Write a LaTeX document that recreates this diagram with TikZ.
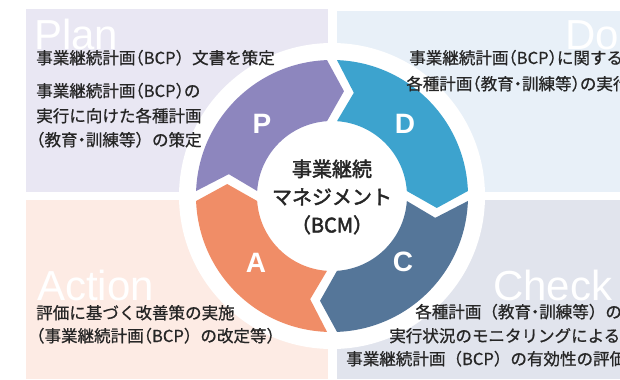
\documentclass[tikz,border=0pt]{standalone}
\usepackage{fontspec}
\usepackage{xcolor}
\setmainfont{Liberation Sans}
\newfontfamily\jpfont{Noto Sans CJK JP}[FakeBold=0.8]
\newfontfamily\jpcore{Noto Sans CJK JP}[FakeBold=2.2]
% half-width punctuation
\newcommand{\hl}[1]{{\addfontfeature{RawFeature=+halt}#1}}

\definecolor{planbg}{HTML}{E9E7F3}
\definecolor{dobg}{HTML}{E8F0F8}
\definecolor{actbg}{HTML}{FDEBE4}
\definecolor{checkbg}{HTML}{E1E4ED}
\definecolor{pcol}{HTML}{8D86BE}
\definecolor{dcol}{HTML}{3DA3CE}
\definecolor{ccol}{HTML}{557699}
\definecolor{acol}{HTML}{F08D67}

\tikzstyle{bglabel} = [anchor=base west, inner sep=0pt, text=white, font=\fontsize{31.5}{31.5}\selectfont]
\tikzstyle{phase} = [inner sep=0pt, text=white, font=\fontsize{21}{21}\selectfont\bfseries]
\tikzstyle{desc} = [anchor=base west, inner sep=0pt, text=black!85, font=\jpfont\fontsize{12.4}{12.4}\selectfont]
\tikzstyle{core} = [align=center, inner sep=0pt, text=black!85, font=\jpcore\fontsize{15}{21}\selectfont]

% ring segment: colour, trailing angle, leading angle
\newcommand{\ringseg}[3]{%
  \fill[#1] ({#2-2.107}:136) arc[start angle={#2-2.107}, end angle={#3+2.107}, radius=136]
    -- ({#3+2.715-9.23}:105.5) -- ({#3+3.82}:75)
    arc[start angle={#3+3.82}, end angle={#2-3.82}, radius=75]
    -- ({#2-2.715-9.23}:105.5) -- cycle;}

\begin{document}
\begin{tikzpicture}[x=0.75pt, y=0.75pt]
        \useasboundingbox (0,0) rectangle (620,379);
        \clip (0,0) rectangle (620,379);

        % Backgrounds
        \fill[planbg] (26,370) rectangle (328,187);
        \fill[dobg] (337,368) rectangle (620,187);
        \fill[actbg] (26,179) rectangle (328,0);
        \fill[checkbg] (337,179) rectangle (620,0);

        \node[bglabel] (planlabel) at (34,329) {Plan};
        \node[bglabel] (dolabel) at (565,329) {Do};
        \node[bglabel] (actlabel) at (37,79) {Action};
        \node[bglabel] (checklabel) at (493,79) {Check};

        % Cycle
        \begin{scope}[shift={(332,183)}]
            \fill[white] (0,0) circle[radius=153];
            \ringseg{pcol}{180}{90}
            \ringseg{dcol}{90}{0}
            \ringseg{ccol}{0}{-90}
            \ringseg{acol}{-90}{-180}
        \end{scope}

        \node[phase] (P) at (262,255) {P};
        \node[phase] (D) at (405,255) {D};
        \node[phase] (C) at (403,117) {C};
        \node[phase] (A) at (256,116) {A};

        \node[core] (bcm) at (332,182) {事業継続\\マネジメント\\（BCM）};

        % Text Labels
        \node[desc] (plan1) at (36,315) {事業継続計画\hl{（}BCP）文書を策定};
        \node[desc] (plan2) at (36,282) {事業継続計画\hl{（}BCP\hl{）}の};
        \node[desc] (plan3) at (36,257) {実行に向けた各種計画};
        \node[desc] (plan4) at (36,233) {\hspace*{-0.5em}（教育\hl{・}訓練等）の策定};

        \node[desc] (do1) at (409,315) {事業継続計画\hl{（}BCP\hl{）}に関する};
        \node[desc] (do2) at (406,289) {各種計画\hl{（}教育\hl{・}訓練等\hl{）}の実行};

        \node[desc] (act1) at (36,60) {評価に基づく改善策の実施};
        \node[desc] (act2) at (36,37) {\hspace*{-0.5em}（事業継続計画\hl{（}BCP）の改定等）};

        \node[desc] (check1) at (415,61) {各種計画（教育\hl{・}訓練等）の};
        \node[desc] (check2) at (389,37) {実行状況のモニタリングによる};
        \node[desc] (check3) at (346,14) {事業継続計画（BCP）の有効性の評価};

    \end{tikzpicture}
\end{document}
